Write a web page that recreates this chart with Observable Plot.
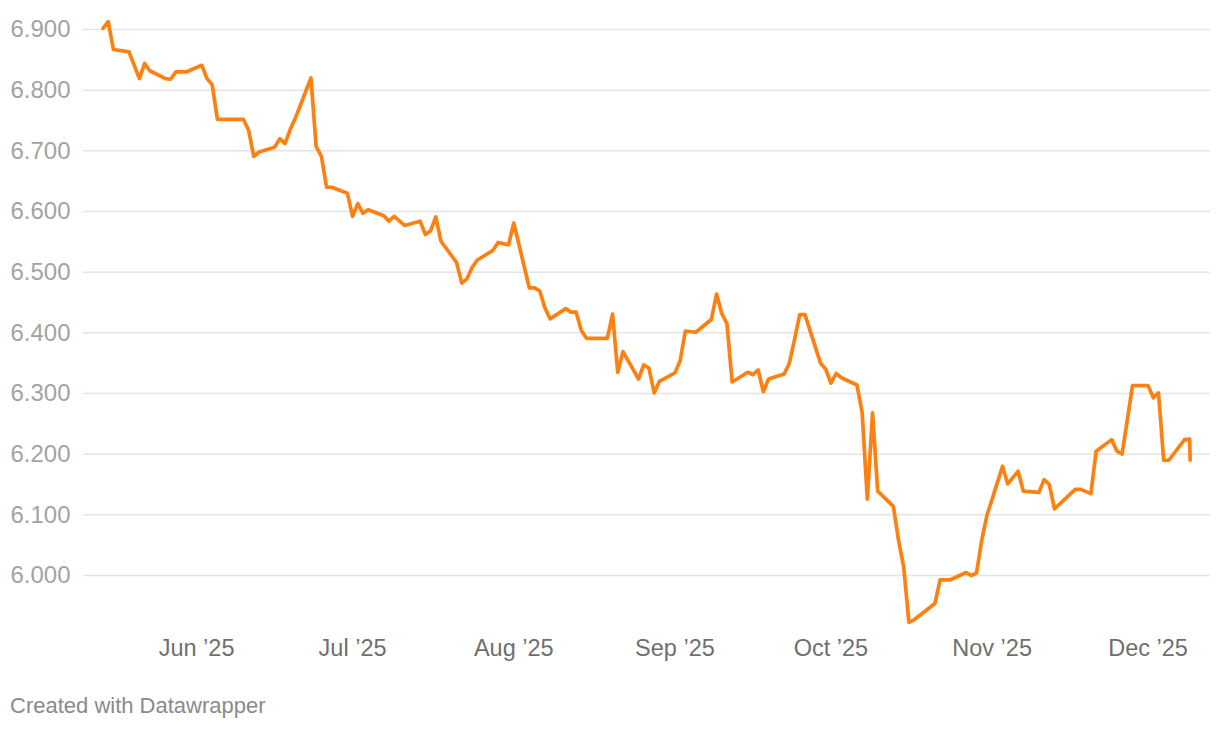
<!DOCTYPE html>
<html><head><meta charset="utf-8">
<script src="https://cdn.jsdelivr.net/npm/d3@7"></script>
<script src="https://cdn.jsdelivr.net/npm/@observablehq/plot@0.6"></script>
<style>
body{margin:0;background:#fff;font-family:"Liberation Sans",Arial,Helvetica,sans-serif;}
#chart svg{display:block}
.footer{padding:23px 0 0 10px;font-size:22px;line-height:1.2;color:#8a8a8a;}
</style></head><body>
<div id="chart"></div>
<div class="footer">Created with Datawrapper</div>
<script>
const dates = [
"2025-05-14","2025-05-15","2025-05-16","2025-05-19","2025-05-21","2025-05-22","2025-05-23","2025-05-26","2025-05-27","2025-05-28","2025-05-30",
"2025-06-02","2025-06-03","2025-06-04","2025-06-05","2025-06-10","2025-06-11","2025-06-12","2025-06-13","2025-06-16","2025-06-17","2025-06-18","2025-06-19","2025-06-20","2025-06-23","2025-06-24","2025-06-25","2025-06-26","2025-06-27","2025-06-30",
"2025-07-01","2025-07-02","2025-07-03","2025-07-04","2025-07-07","2025-07-08","2025-07-09","2025-07-11","2025-07-14","2025-07-15","2025-07-16","2025-07-17","2025-07-18","2025-07-21","2025-07-22","2025-07-23","2025-07-24","2025-07-25","2025-07-28","2025-07-29","2025-07-31",
"2025-08-01","2025-08-04","2025-08-05","2025-08-06","2025-08-07","2025-08-08","2025-08-11","2025-08-12","2025-08-13","2025-08-14","2025-08-15","2025-08-19","2025-08-20","2025-08-21","2025-08-22","2025-08-25","2025-08-26","2025-08-27","2025-08-28","2025-08-29",
"2025-09-01","2025-09-02","2025-09-03","2025-09-05","2025-09-08","2025-09-09","2025-09-10","2025-09-11","2025-09-12","2025-09-15","2025-09-16","2025-09-17","2025-09-18","2025-09-19","2025-09-22","2025-09-23","2025-09-24","2025-09-25","2025-09-26","2025-09-29","2025-09-30",
"2025-10-01","2025-10-02","2025-10-03","2025-10-06","2025-10-07","2025-10-08","2025-10-09","2025-10-10","2025-10-13","2025-10-14","2025-10-15","2025-10-16","2025-10-17","2025-10-21","2025-10-22","2025-10-24","2025-10-27","2025-10-28","2025-10-29","2025-10-30","2025-10-31",
"2025-11-03","2025-11-04","2025-11-06","2025-11-07","2025-11-10","2025-11-11","2025-11-12","2025-11-13","2025-11-17","2025-11-18","2025-11-20","2025-11-21","2025-11-24","2025-11-25","2025-11-26","2025-11-28",
"2025-12-01","2025-12-02","2025-12-03","2025-12-04","2025-12-05","2025-12-08","2025-12-09T00:00Z","2025-12-09T02:00Z"
];
const values = [
6.902,6.913,6.867,6.863,6.819,6.844,6.832,6.819,6.818,6.830,6.830,
6.841,6.819,6.809,6.752,6.752,6.734,6.691,6.698,6.706,6.720,6.712,6.735,6.754,6.820,6.707,6.691,6.640,6.640,6.630,
6.592,6.613,6.597,6.603,6.593,6.584,6.592,6.577,6.584,6.562,6.568,6.591,6.551,6.516,6.482,6.489,6.508,6.520,6.536,6.549,6.545,
6.581,6.474,6.474,6.469,6.441,6.423,6.440,6.434,6.434,6.404,6.391,6.391,6.431,6.335,6.369,6.324,6.347,6.342,6.301,6.320,
6.334,6.354,6.403,6.401,6.422,6.464,6.432,6.415,6.319,6.335,6.331,6.339,6.303,6.324,6.332,6.350,6.389,6.430,6.430,6.350,6.340,
6.317,6.333,6.326,6.314,6.269,6.126,6.268,6.139,6.114,6.058,6.014,5.923,5.927,5.954,5.993,5.993,6.005,6.000,6.004,6.058,6.099,
6.180,6.151,6.172,6.139,6.137,6.158,6.150,6.110,6.142,6.142,6.135,6.205,6.224,6.205,6.200,6.313,
6.313,6.293,6.301,6.190,6.190,6.224,6.225,6.190
];
const yTicks = [6.0, 6.1, 6.2, 6.3, 6.4, 6.5, 6.6, 6.7, 6.8, 6.9];
const xTicks = ["2025-06-01","2025-07-01","2025-08-01","2025-09-01","2025-10-01","2025-11-01","2025-12-01"];
const xTickLabels = ["Jun ’25","Jul ’25","Aug ’25","Sep ’25","Oct ’25","Nov ’25","Dec ’25"];

const parse = s => new Date(s.length === 10 ? s + "T00:00:00Z" : s);
const data = dates.map((d, i) => ({date: parse(d), value: values[i]}));
const tickDates = xTicks.map(parse);
const labelMap = new Map(tickDates.map((d, i) => [+d, xTickLabels[i]]));

const chart = Plot.plot({
  width: 1220,
  height: 670,
  marginTop: 29,
  marginLeft: 83,
  marginRight: 10,
  marginBottom: 34.3,
  style: {fontFamily: '"Liberation Sans", Arial, Helvetica, sans-serif', background: "#fff", overflow: "visible"},
  x: {type: "utc", domain: [parse("2025-05-10T06:00Z"), parse("2025-12-13")], label: null},
  y: {domain: [5.9, 6.9], label: null},
  marks: [
    Plot.ruleY(yTicks, {stroke: "#e4e4e4", strokeWidth: 1.5}),
    Plot.axisY({ticks: yTicks, tickSize: 0, tickPadding: 13, tickFormat: d3.format(".3f"), color: "#a3a3a3", fontSize: 24, label: null}),
    Plot.axisX({ticks: tickDates, tickSize: 0, tickPadding: 3.5, tickFormat: d => labelMap.get(+d), color: "#6f6f6f", fontSize: 23.5, label: null}),
    Plot.line(data, {x: "date", y: "value", stroke: "#fd8112", strokeWidth: 3.7, strokeLinejoin: "round", strokeLinecap: "round"})
  ]
});
document.getElementById("chart").appendChild(chart);
</script>
</body></html>
